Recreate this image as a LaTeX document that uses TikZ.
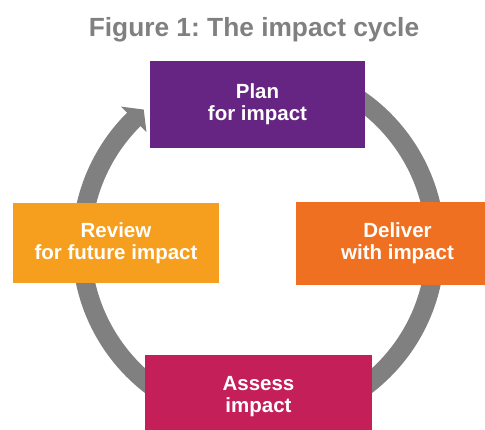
\documentclass[tikz,border=0pt]{standalone}
\usepackage{fontspec}
\setmainfont{Liberation Sans}
\usetikzlibrary{calc}
\frenchspacing
\definecolor{ringgray}{RGB}{128,128,128}
\definecolor{titlegray}{RGB}{128,128,128}
\definecolor{planpurple}{RGB}{102,36,131}
\definecolor{deliverorange}{RGB}{240,112,34}
\definecolor{reviewamber}{RGB}{246,158,30}
\definecolor{assesscrimson}{RGB}{197,31,90}
\begin{document}
\begin{tikzpicture}[x=1pt,y=1pt,
  stage/.style={inner sep=0pt, align=center, text=white,
    font=\fontsize{20.5}{22}\selectfont\bfseries},
  ring/.style={draw=ringgray, line width=19pt, line cap=butt},
]
\clip (0,0) rectangle (485,430);
\fill[white] (0,0) rectangle (485,430);

% title
\node[anchor=base, text=titlegray, font=\fontsize{26.3}{28}\selectfont\bfseries]
  (title) at (254,393.3) {Figure 1: The impact cycle};

% cycle ring with its arrowhead
\coordinate (hub) at (258.5,185);
\draw[ring] ($(hub)+(80:177)$) arc[start angle=80, end angle=-225.5, radius=177];
\fill[ringgray] ($(hub)+(134.8:195)$) -- ($(hub)+(134.8:177)+(44.8:14)$)
  -- ($(hub)+(134.8:159)$) -- cycle;

% stages
\node[stage, fill=planpurple, minimum width=215pt, minimum height=87pt]
  (plan) at (257.5,325.5) {Plan\\for impact};
\node[stage, fill=deliverorange, minimum width=203pt, minimum height=83pt]
  (deliver) at (397.5,186.5) {Deliver\\with impact};
\node[stage, fill=assesscrimson, minimum width=227pt, minimum height=84pt]
  (assess) at (258.5,33) {Assess\\impact};
\node[stage, fill=reviewamber, minimum width=206pt, minimum height=80pt]
  (review) at (116,187) {Review\\for future impact};
\end{tikzpicture}
\end{document}
